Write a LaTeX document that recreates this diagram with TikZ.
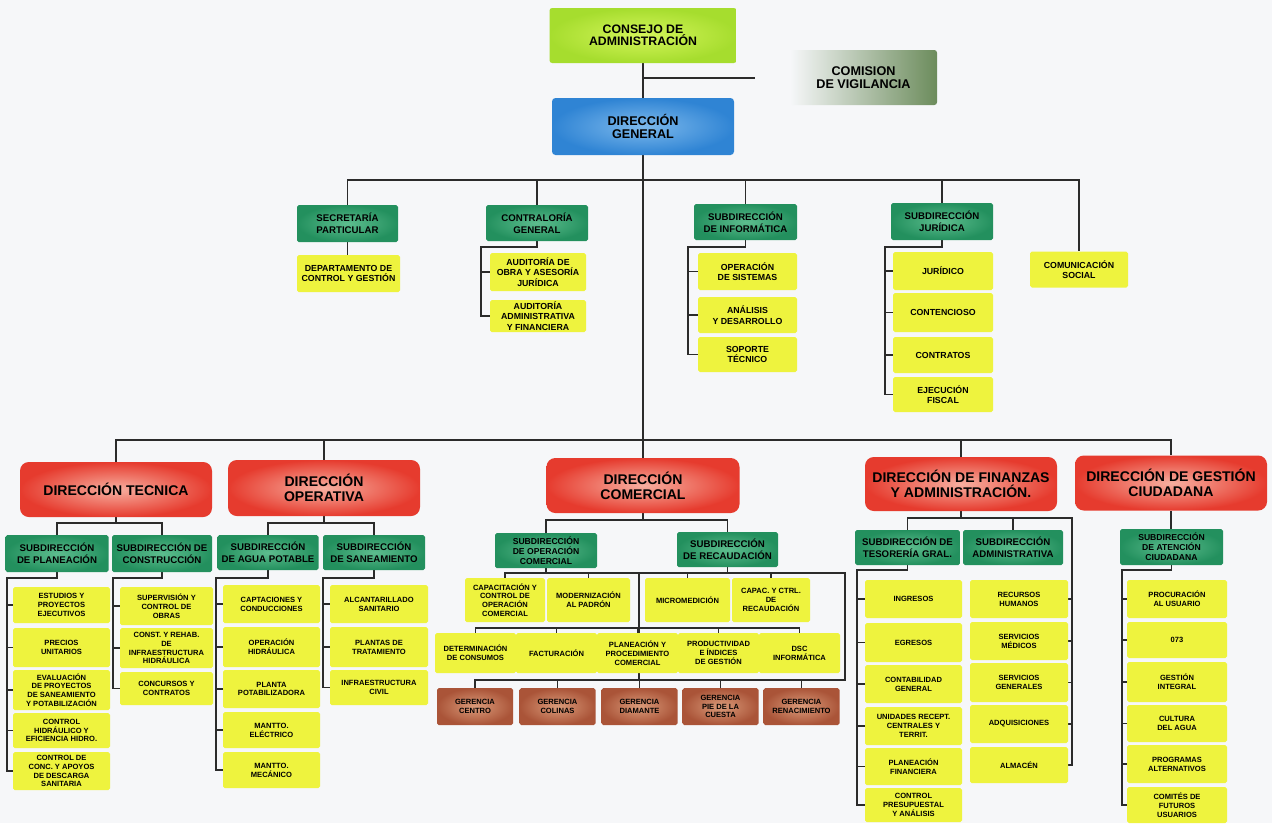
\documentclass[tikz,border=0pt]{standalone}
\usepackage{fontspec}
\setmainfont{Liberation Sans}
\usetikzlibrary{backgrounds}

\definecolor{csPaper}{HTML}{F6F7F9}
\definecolor{csLine}{HTML}{2B2B2B}
\definecolor{csLime}{HTML}{A6DD2E}
\definecolor{csLimeL}{HTML}{D4F55A}
\definecolor{csBlue}{HTML}{2F84D4}
\definecolor{csBlueL}{HTML}{7DB9EC}
\definecolor{csGray}{HTML}{6C8C5C}
\definecolor{csGreen}{HTML}{23905E}
\definecolor{csGreenL}{HTML}{5DBD8E}
\definecolor{csYellow}{HTML}{EEF33E}
\definecolor{csRed}{HTML}{E63B2E}
\definecolor{csRedL}{HTML}{F7AFA0}
\definecolor{csBrown}{HTML}{AA5438}
\definecolor{csBrownL}{HTML}{DA9B7A}

\begin{document}
\begin{tikzpicture}[x=0.02cm, y=-0.02cm,
    box/.style 2 args={rectangle, inner sep=0.5pt, align=center, text=black,
        minimum width=#1*0.02cm, minimum height=#2*0.02cm},
    consejo/.style={rounded corners=1.5pt, inner color=csLimeL, outer color=csLime,
        font=\bfseries\fontsize{7}{7}\selectfont},
    vigilancia/.style={rounded corners=1.5pt, left color=csPaper, right color=csGray,
        font=\bfseries\fontsize{7.2}{7.2}\selectfont},
    general/.style={rounded corners=2pt, inner color=csBlueL, outer color=csBlue,
        font=\bfseries\fontsize{7.2}{7.6}\selectfont},
    direccion/.style={rounded corners=5pt, inner color=csRedL, outer color=csRed,
        font=\bfseries\fontsize{8}{8.6}\selectfont},
    subdir/.style={rounded corners=1pt, inner color=csGreenL, outer color=csGreen,
        font=\bfseries\fontsize{5.5}{6.6}\selectfont},
    subdir3/.style={subdir, font=\bfseries\fontsize{4.9}{5.7}\selectfont},
    area/.style={rounded corners=1pt, fill=csYellow,
        font=\bfseries\fontsize{4.3}{5}\selectfont},
    staff/.style={area, font=\bfseries\fontsize{5}{6}\selectfont},
    gerencia/.style={rounded corners=1pt, inner color=csBrownL, outer color=csBrown,
        font=\bfseries\fontsize{4.3}{5}\selectfont},
    link/.style={draw=csLine, line width=1pt}]

% Consejo y Direccion General
    \node[box={187}{55}, consejo] (cons) at (643,35.5) {CONSEJO DE\\ADMINISTRACIÓN};
    \node[box={147}{55}, vigilancia] (vig) at (863.5,77.5) {COMISION\\DE VIGILANCIA};
    \node[box={182}{57}, general] (dg) at (643,126.5) {DIRECCIÓN\\GENERAL};
    \coordinate (cv) at (755,78);

% Staff
    \node[box={101}{37}, subdir] (secr) at (347.5,223.5) {SECRETARÍA\\PARTICULAR};
    \node[box={102}{36}, subdir] (contra) at (537,223) {CONTRALORÍA\\GENERAL};
    \node[box={103}{36}, subdir] (sinf) at (745.5,222) {SUBDIRECCIÓN\\DE INFORMÁTICA};
    \node[box={102}{37}, subdir] (sjur) at (942,221.5) {SUBDIRECCIÓN\\JURÍDICA};
    \node[box={98}{36}, staff] (csoc) at (1079,269.5) {COMUNICACIÓN\\SOCIAL};

    \node[box={103}{37}, staff] (dcg) at (348.5,273.5) {DEPARTAMENTO DE\\CONTROL Y GESTIÓN};

    \node[box={96}{38}, staff] (aud1) at (538,272) {AUDITORÍA DE\\OBRA Y ASESORÍA\\JURÍDICA};
    \node[box={96}{32}, staff] (aud2) at (538,316) {AUDITORÍA\\ADMINISTRATIVA\\Y FINANCIERA};

    \node[box={99}{37}, staff] (ops) at (747.5,271.5) {OPERACIÓN\\DE SISTEMAS};
    \node[box={99}{36}, staff] (anal) at (747.5,315) {ANÁLISIS\\Y DESARROLLO};
    \node[box={99}{35}, staff] (sop) at (747.5,354.5) {SOPORTE\\TÉCNICO};

    \node[box={100}{38}, staff] (jur) at (943,271) {JURÍDICO};
    \node[box={100}{39}, staff] (cont) at (943,312.5) {CONTENCIOSO};
    \node[box={100}{36}, staff] (ctr) at (943,355) {CONTRATOS};
    \node[box={100}{35}, staff] (ejec) at (943,394.5) {EJECUCIÓN\\FISCAL};

% Direcciones
    \node[box={192}{55}, direccion] (dtec) at (116,489.5) {DIRECCIÓN TECNICA};
    \node[box={192}{56}, direccion] (dope) at (324,488) {DIRECCIÓN\\OPERATIVA};
    \node[box={193}{55}, direccion] (dcom) at (643,485.5) {DIRECCIÓN\\COMERCIAL};
    \node[box={192}{54}, direccion] (dfin) at (961,484) {DIRECCIÓN DE FINANZAS\\Y ADMINISTRACIÓN.};
    \node[box={192}{55}, direccion] (dges) at (1171,483) {DIRECCIÓN DE GESTIÓN\\CIUDADANA};

% Direccion Tecnica
    \node[box={103}{37}, subdir] (spla) at (57,553.5) {SUBDIRECCIÓN\\DE PLANEACIÓN};
    \node[box={100}{37}, subdir] (scon) at (162,553.5) {SUBDIRECCIÓN DE\\CONSTRUCCIÓN};

    \node[box={97}{36}, area] (est) at (61.5,605) {ESTUDIOS Y\\PROYECTOS\\EJECUTIVOS};
    \node[box={97}{39}, area] (pre) at (61.5,647.5) {PRECIOS\\UNITARIOS};
    \node[box={97}{40}, area] (eva) at (61.5,690) {EVALUACIÓN\\DE PROYECTOS\\DE SANEAMIENTO\\Y POTABILIZACIÓN};
    \node[box={97}{35}, area] (chi) at (61.5,730.5) {CONTROL\\HIDRÁULICO Y\\EFICIENCIA HIDRO.};
    \node[box={97}{38}, area] (ccon) at (61.5,771) {CONTROL DE\\CONC. Y APOYOS\\DE DESCARGA\\SANITARIA};

    \node[box={93}{38}, area] (sup) at (166.5,606) {SUPERVISIÓN Y\\CONTROL DE\\OBRAS};
    \node[box={93}{40}, area] (reh) at (166.5,648) {CONST. Y REHAB.\\DE\\INFRAESTRUCTURA\\HIDRÁULICA};
    \node[box={93}{33}, area] (cyc) at (166.5,688.5) {CONCURSOS Y\\CONTRATOS};

% Direccion Operativa
    \node[box={101}{35}, subdir] (sagu) at (268,552.5) {SUBDIRECCIÓN\\DE AGUA POTABLE};
    \node[box={102}{35}, subdir] (ssan) at (374,552.5) {SUBDIRECCIÓN\\DE SANEAMIENTO};

    \node[box={97}{38}, area] (cap) at (271.5,604) {CAPTACIONES Y\\CONDUCCIONES};
    \node[box={97}{40}, area] (ohi) at (271.5,647) {OPERACIÓN\\HIDRÁULICA};
    \node[box={97}{38}, area] (pla) at (271.5,689) {PLANTA\\POTABILIZADORA};
    \node[box={97}{36}, area] (mel) at (271.5,730) {MANTTO.\\ELÉCTRICO};
    \node[box={97}{36}, area] (mme) at (271.5,770) {MANTTO.\\MECÁNICO};

    \node[box={98}{38}, area] (alc) at (379,604) {ALCANTARILLADO\\SANITARIO};
    \node[box={98}{40}, area] (ptr) at (379,647) {PLANTAS DE\\TRATAMIENTO};
    \node[box={98}{35}, area] (inf) at (379,687.5) {INFRAESTRUCTURA\\CIVIL};

% Direccion Comercial
    \node[box={102}{35}, subdir3] (soc) at (546,550.5) {SUBDIRECCIÓN\\DE OPERACIÓN\\COMERCIAL};
    \node[box={101}{35}, subdir] (srec) at (727.5,549.5) {SUBDIRECCIÓN\\DE RECAUDACIÓN};

    \node[box={80}{44}, area] (capa) at (505,600) {CAPACITACIÓN Y\\CONTROL DE\\OPERACIÓN\\COMERCIAL};
    \node[box={83}{44}, area] (modp) at (588.5,600) {MODERNIZACIÓN\\AL PADRÓN};
    \node[box={85}{44}, area] (micr) at (687.5,600) {MICROMEDICIÓN};
    \node[box={78}{44}, area] (crec) at (771,600) {CAPAC. Y CTRL.\\DE\\RECAUDACIÓN};

    \node[box={81}{40}, area] (dcons) at (475.5,653) {DETERMINACIÓN\\DE CONSUMOS};
    \node[box={81}{40}, area] (fact) at (556.5,653) {FACTURACIÓN};
    \node[box={81}{40}, area] (pproc) at (637.5,653) {PLANEACIÓN Y\\PROCEDIMIENTO\\COMERCIAL};
    \node[box={81}{40}, area] (prod) at (718.5,653) {PRODUCTIVIDAD\\E ÍNDICES\\DE GESTIÓN};
    \node[box={81}{40}, area] (dsc) at (799.5,653) {DSC\\INFORMÁTICA};

    \node[box={76}{37}, gerencia] (gcen) at (475,706.5) {GERENCIA\\CENTRO};
    \node[box={76}{37}, gerencia] (gcol) at (557.5,706.5) {GERENCIA\\COLINAS};
    \node[box={76}{37}, gerencia] (gdia) at (639.5,706.5) {GERENCIA\\DIAMANTE};
    \node[box={76}{37}, gerencia] (gpie) at (720.5,706.5) {GERENCIA\\PIE DE LA\\CUESTA};
    \node[box={76}{37}, gerencia] (gren) at (801.5,706.5) {GERENCIA\\RENACIMIENTO};

% Direccion de Finanzas
    \node[box={105}{35}, subdir] (stes) at (907.5,547.5) {SUBDIRECCIÓN DE\\TESORERÍA GRAL.};
    \node[box={100}{35}, subdir] (sadm) at (1013,547.5) {SUBDIRECCIÓN\\ADMINISTRATIVA};

    \node[box={97}{38}, area] (ing) at (913.5,599) {INGRESOS};
    \node[box={97}{39}, area] (egr) at (913.5,642.5) {EGRESOS};
    \node[box={97}{38}, area] (cgen) at (913.5,684) {CONTABILIDAD\\GENERAL};
    \node[box={97}{38}, area] (urc) at (913.5,726) {UNIDADES RECEPT.\\CENTRALES Y\\TERRIT.};
    \node[box={97}{37}, area] (pfin) at (913.5,766.5) {PLANEACIÓN\\FINANCIERA};
    \node[box={97}{34}, area] (cpre) at (913.5,805) {CONTROL\\PRESUPUESTAL\\Y ANÁLISIS};

    \node[box={98}{38}, area] (rh) at (1019,599) {RECURSOS\\HUMANOS};
    \node[box={98}{38}, area] (smed) at (1019,641) {SERVICIOS\\MÉDICOS};
    \node[box={98}{39}, area] (sgen) at (1019,682.5) {SERVICIOS\\GENERALES};
    \node[box={98}{38}, area] (adq) at (1019,724) {ADQUISICIONES};
    \node[box={98}{36}, area] (alm) at (1019,765) {ALMACÉN};

% Direccion de Gestion Ciudadana
    \node[box={103}{36}, subdir3] (sate) at (1171.5,547) {SUBDIRECCIÓN\\DE ATENCIÓN\\CIUDADANA};

    \node[box={100}{38}, area] (pus) at (1177,599) {PROCURACIÓN\\AL USUARIO};
    \node[box={100}{36}, area] (t073) at (1177,640) {073};
    \node[box={100}{40}, area] (gint) at (1177,682) {GESTIÓN\\INTEGRAL};
    \node[box={100}{37}, area] (cag) at (1177,723.5) {CULTURA\\DEL AGUA};
    \node[box={100}{38}, area] (palt) at (1177,764) {PROGRAMAS\\ALTERNATIVOS};
    \node[box={100}{36}, area] (cfu) at (1177,805) {COMITÉS DE\\FUTUROS\\USUARIOS};

% Lineas
\begin{scope}[on background layer]
    \fill[csPaper] (0,0) rectangle (1272,823);
  \begin{scope}[link]
    \draw (cons.south) -- (dg.north);
    \draw (cons.south |- cv) -- (cv);
    \draw (dg.south) -- (dcom.north);

    % staff
    \coordinate (b1) at (643,180);
    \draw (secr.north) |- (b1) -| (csoc.north);
    \foreach \n in {contra, sinf, sjur} \draw (\n.north) -- (\n.north |- b1);
    \draw (secr.south) -- (secr.south |- dcg.north);

    \coordinate (kc) at (481,247);
    \draw (contra.south) |- (kc) |- (aud2.west);
    \draw (kc |- aud1.west) -- (aud1.west);

    \coordinate (ki) at (688,247);
    \draw (sinf.south) |- (ki) |- (sop.west);
    \foreach \n in {ops, anal} \draw (ki |- \n.west) -- (\n.west);

    \coordinate (kj) at (885,247);
    \draw (sjur.south) |- (kj) |- (ejec.west);
    \foreach \n in {jur, cont, ctr} \draw (kj |- \n.west) -- (\n.west);

    % direcciones
    \coordinate (b2) at (643,440);
    \draw (dtec.north) |- (b2) -| (dges.north);
    \foreach \n in {dope, dfin} \draw (\n.north) -- (\n.north |- b2);

    % tecnica
    \coordinate (kt) at (116,523);
    \draw (dtec.south) -- (kt);
    \draw (spla.north) |- (kt) -| (scon.north);
    \coordinate (kp) at (7,578);
    \draw (spla.south) |- (kp) |- (ccon.west);
    \foreach \n in {est, pre, eva, chi} \draw (kp |- \n.west) -- (\n.west);
    \coordinate (kk) at (113,578);
    \draw (scon.south) |- (kk) |- (cyc.west);
    \foreach \n in {sup, reh} \draw (kk |- \n.west) -- (\n.west);

    % operativa
    \coordinate (ko) at (324,523);
    \draw (dope.south) -- (ko);
    \draw (sagu.north) |- (ko) -| (ssan.north);
    \coordinate (ka) at (216,578);
    \draw (sagu.south) |- (ka) |- (mme.west);
    \foreach \n in {cap, ohi, pla, mel} \draw (ka |- \n.west) -- (\n.west);
    \coordinate (ks) at (323,578);
    \draw (ssan.south) |- (ks) |- (inf.west);
    \foreach \n in {alc, ptr} \draw (ks |- \n.west) -- (\n.west);

    % comercial
    \coordinate (km) at (643,520);
    \draw (dcom.south) -- (km);
    \draw (soc.north) |- (km) -| (srec.north);
    \coordinate (kc1) at (639,573);
    \coordinate (kc2) at (639,628);
    \coordinate (kc3) at (639,680);
    \coordinate (kr) at (845,680);
    \draw (capa.north) |- (kc1) -| (kr) -| (gcen.north);
    \foreach \n in {soc, srec} \draw (\n.south) -- (\n.south |- kc1);
    \foreach \n in {modp, micr, crec} \draw (\n.north) -- (\n.north |- kc1);
    \draw (kc1) -- (kc3);
    \draw (dcons.north) |- (kc2) -| (dsc.north);
    \foreach \n in {fact, pproc, prod} \draw (\n.north) -- (\n.north |- kc2);
    \foreach \n in {gcol, gdia, gpie, gren} \draw (\n.north) -- (\n.north |- kc3);

    % finanzas
    \coordinate (kf) at (961,518);
    \coordinate (kfr) at (1072,765);
    \draw (dfin.south) -- (kf);
    \draw (stes.north) |- (kf) -| (kfr) -- (alm.east);
    \draw (sadm.north) -- (sadm.north |- kf);
    \foreach \n in {rh, smed, sgen, adq} \draw (kfr |- \n.east) -- (\n.east);
    \coordinate (kte) at (857,570);
    \draw (stes.south) |- (kte) |- (cpre.west);
    \foreach \n in {ing, egr, cgen, urc, pfin} \draw (kte |- \n.west) -- (\n.west);

    % gestion ciudadana
    \draw (dges.south) -- (dges.south |- sate.north);
    \coordinate (kg) at (1122,570);
    \draw (sate.south) |- (kg) |- (cfu.west);
    \foreach \n in {pus, t073, gint, cag, palt} \draw (kg |- \n.west) -- (\n.west);
  \end{scope}
\end{scope}

\end{tikzpicture}
\end{document}
